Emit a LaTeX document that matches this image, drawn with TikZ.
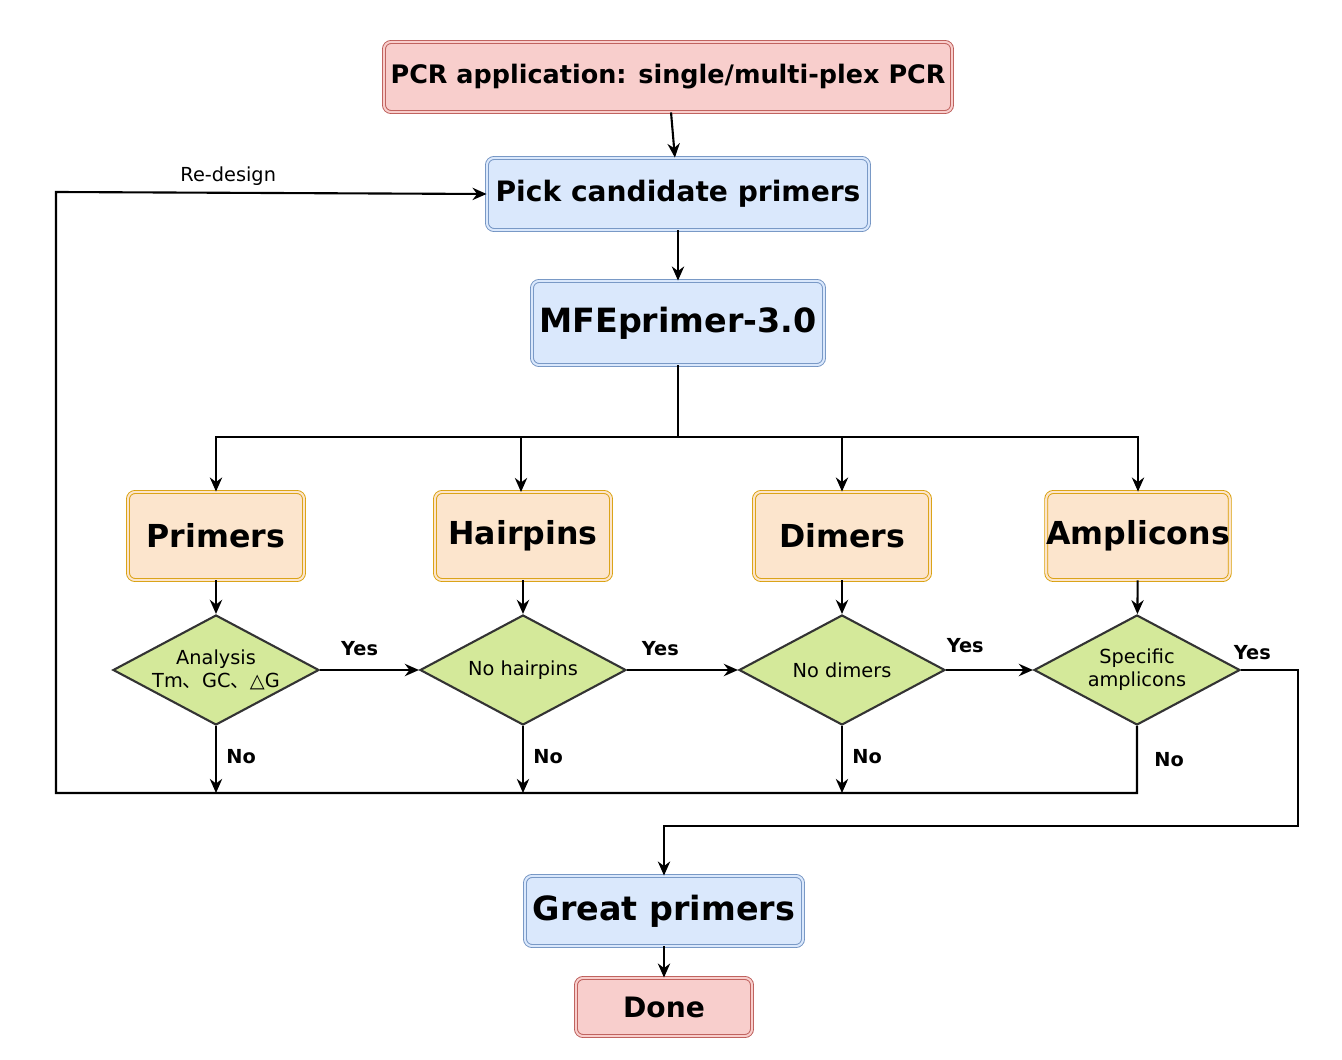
\documentclass[tikz,border=0pt]{standalone}
\usepackage{fontspec}
\setmainfont{DejaVu Sans}
\newfontfamily\cjk{Noto Sans CJK SC}
\usetikzlibrary{arrows.meta,shapes.geometric}
\definecolor{redfill}{HTML}{F8CECC}
\definecolor{redline}{HTML}{B85450}
\definecolor{bluefill}{HTML}{DAE8FC}
\definecolor{blueline}{HTML}{6C8EBF}
\definecolor{orangefill}{HTML}{FCE5CD}
\definecolor{orangeline}{HTML}{D79B00}
\definecolor{greenfill}{HTML}{D4E99A}
\definecolor{greenline}{HTML}{333333}
\tikzset{
  box/.style={rounded corners=4pt,line width=0.5pt,double distance=1.2pt,inner sep=0pt,font=\bfseries},
  redbox/.style={box,draw=redline,double=redfill,fill=redfill},
  bluebox/.style={box,draw=blueline,double=bluefill,fill=bluefill},
  orangebox/.style={box,draw=orangeline,double=orangefill,fill=orangefill,
    minimum width=176*0.02cm,minimum height=88*0.02cm,font=\fontsize{18}{20}\selectfont\bfseries},
  test/.style={diamond,draw=greenline,fill=greenfill,line width=1.2pt,aspect=1.87,
    minimum width=206*0.02cm,minimum height=110*0.02cm,inner sep=0pt,align=center,
    font=\fontsize{11}{13}\selectfont},
  flow/.style={-{Stealth[length=8pt,width=7pt]},line width=1.2pt},
  tag/.style={font=\fontsize{11}{13}\selectfont\bfseries},
}
\begin{document}
\begin{tikzpicture}[x=0.02cm,y=-0.02cm]
\useasboundingbox (0,0) rectangle (1342,1060);
\node[redbox,minimum width=568*0.02cm,minimum height=70*0.02cm,font=\fontsize{14.5}{16}\selectfont\bfseries] (pcr) at (668,77) {PCR application: single/multi-plex PCR};
\node[bluebox,minimum width=382*0.02cm,minimum height=72*0.02cm,font=\fontsize{16}{18}\selectfont\bfseries] (pick) at (678,194) {Pick candidate primers};
\node[bluebox,minimum width=292*0.02cm,minimum height=84*0.02cm,font=\fontsize{19}{21}\selectfont\bfseries] (mfe) at (678,323) {MFEprimer-3.0};
\node[orangebox] (primers) at (216,536) {Primers};
\node[orangebox] (hairpins) at (523,536) {Hairpins};
\node[orangebox] (dimers) at (842,536) {Dimers};
\node[orangebox] (amplicons) at (1138,536) {Amplicons};
\node[test] (tprimers) at (216,670) {Analysis\\Tm{\cjk 、}GC{\cjk 、}△G};
\node[test] (thairpins) at (523,670) {No hairpins};
\node[test] (tdimers) at (842,670) {No dimers};
\node[test] (tamplicons) at (1137,670) {Specific\\amplicons};
\node[bluebox,minimum width=278*0.02cm,minimum height=70*0.02cm,font=\fontsize{19}{21}\selectfont\bfseries] (great) at (664,911) {Great primers};
\node[redbox,minimum width=176*0.02cm,minimum height=58*0.02cm,font=\fontsize{16}{18}\selectfont\bfseries] (done) at (664,1007) {Done};
\coordinate (split) at (678,437);
\coordinate (loopy) at (0,793);
% main path
\draw[flow] (pcr) -- (pick);
\draw[flow] (pick) -- (mfe);
\draw[line width=1.2pt] (mfe) -- (split);
\draw[flow] (split) -| (primers);
\draw[flow] (split) -| (amplicons);
\draw[flow] (split -| hairpins) ++(-2,0) -- ++(0,55);
\draw[flow] (split -| dimers) -- (dimers);
% tests
\foreach \a/\b in {primers/tprimers,hairpins/thairpins,dimers/tdimers,amplicons/tamplicons}
  \draw[flow] (\a) -- (\b);
\draw[flow] (tprimers) -- node[tag,above,pos=0.4,yshift=4pt] {Yes} (thairpins);
\draw[flow] (thairpins) -- node[tag,above,pos=0.3,yshift=4pt] {Yes} (tdimers);
\draw[flow] (tdimers) -- node[tag,above,pos=0.22,yshift=6pt] {Yes} (tamplicons);
\foreach \t in {tprimers,thairpins,tdimers}
  \draw[flow] (\t.south) -- (\t.south |- loopy) node[tag,pos=0.45,right=2pt] {No};
% re-design loop
\draw[flow] (tamplicons.south) -- node[tag,pos=0.5,right=6pt] {No} (tamplicons.south |- loopy) -- (56,793) -- (56,192)
  -- node[above,pos=0.4,font=\fontsize{11}{13}\selectfont] {Re-design} (pick.west);
% success exit
\draw[flow] (tamplicons.east) node[tag,anchor=south west,xshift=-8pt,yshift=2pt] {Yes} -- (1298,670) -- (1298,826) -- (664,826) -- (great);
\draw[flow] (great) -- (done);
\end{tikzpicture}
\end{document}
